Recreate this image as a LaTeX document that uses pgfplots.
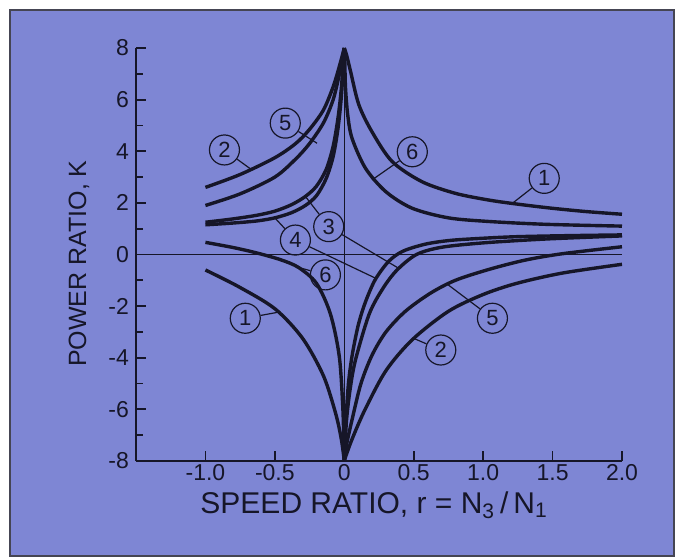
\documentclass[border=0pt]{standalone}
\usepackage{fontspec}
\setmainfont{Liberation Sans}
\usepackage{pgfplots}
\pgfplotsset{compat=1.18}
\definecolor{bg}{RGB}{126,134,212}
\definecolor{ink}{RGB}{22,22,40}
\tikzset{curve/.style={ink, line width=1.7pt, smooth, tension=0.5, mark=none}}
\begin{document}
\begin{tikzpicture}
\fill[white] (0,0) rectangle (338pt,279pt);
\draw[fill=bg, draw=ink!80, line width=1pt] (5pt,1pt) rectangle (337pt,274pt);
\begin{axis}[
    at={(68pt,48.5pt)}, anchor=south west,
    width=243pt, height=206.5pt, scale only axis,
    xmin=-1.5, xmax=2, ymin=-8, ymax=8,
    axis x line*=bottom, axis y line*=left,
    xtick={-1,-0.5,0,0.5,1,1.5,2},
    xticklabels={-1.0,-0.5,0,0.5,1.0,1.5,2.0},
    ytick={-8,-6,-4,-2,0,2,4,6,8},
    yticklabels={-8,-6,-4,-2,0,2,4,6,8},
    minor ytick={-7,-5,-3,-1,1,3,5,7},
    tick align=inside, major tick length=5pt, minor tick length=3.5pt,
    axis line style={line width=0.9pt, ink},
    every tick/.style={line width=0.9pt, ink},
    tick label style={font=\fontsize{11.5}{11.5}\selectfont, text=ink},
    xticklabel style={inner sep=1.5pt},
    xlabel={SPEED RATIO, r = N\textsubscript{3}\,/\,N\textsubscript{1}},
    ylabel={POWER RATIO, K},
    xlabel style={at={(axis description cs:0.49,-0.127)}, anchor=base,
        font=\fontsize{15}{15}\selectfont, text=ink},
    ylabel style={at={(axis description cs:-0.1173,0.478)}, anchor=center,
        font=\fontsize{12.5}{12.5}\selectfont, text=ink},
    clip=false,
]
% reference lines
\draw[ink, line width=0.6pt] (axis cs:-1.5,0) -- (axis cs:2,0);
\draw[ink, line width=0.6pt] (axis cs:0,-8) -- (axis cs:0,8);

% curve 1
\addplot[curve] coordinates {(0,8) (0.018,7.7) (0.045,7.1) (0.105,5.8) (0.2,4.75) (0.345,3.6) (0.56,2.82) (0.8,2.37) (1.04,2.11) (1.25,1.95) (1.5,1.79) (1.75,1.66) (2.0,1.56)};
\addplot[curve] coordinates {(-1.0,-0.6) (-0.76,-1.25) (-0.5,-2.1) (-0.3,-3.25) (-0.15,-4.7) (-0.06,-6.2) (-0.02,-7.2) (0,-8)};
% curve 6
\addplot[curve] coordinates {(0,8) (0.004,7.4) (0.009,6.45) (0.025,5.4) (0.056,4.5) (0.153,3.34) (0.3,2.43) (0.49,1.79) (0.75,1.42) (1.04,1.28) (1.45,1.17) (2.0,1.1)};
\addplot[curve] coordinates {(-1.0,0.47) (-0.8,0.27) (-0.63,0.06) (-0.46,-0.2) (-0.33,-0.5) (-0.2,-1.12) (-0.1,-2.3) (-0.036,-3.95) (-0.01,-6.0) (0,-8)};
% curve 2
\addplot[curve] coordinates {(-1.0,2.6) (-0.75,3.1) (-0.5,3.75) (-0.35,4.3) (-0.25,4.85) (-0.15,5.6) (-0.08,6.5) (-0.035,7.3) (0,8)};
\addplot[curve] coordinates {(0,-8) (0.015,-7.75) (0.06,-7.1) (0.15,-6.0) (0.3,-4.5) (0.49,-3.3) (0.75,-2.2) (1.0,-1.55) (1.24,-1.12) (1.57,-0.72) (2.0,-0.38)};
% curve 5
\addplot[curve] coordinates {(-1.0,1.9) (-0.75,2.35) (-0.5,3.0) (-0.35,3.7) (-0.25,4.3) (-0.15,5.1) (-0.08,6.0) (-0.035,7.0) (0,8)};
\addplot[curve] coordinates {(0,-8) (0.015,-7.4) (0.056,-6.4) (0.12,-5.0) (0.2,-3.9) (0.3,-3.0) (0.44,-2.2) (0.62,-1.5) (0.8,-1.0) (1.04,-0.58) (1.3,-0.22) (1.57,0.03) (2.0,0.3)};
% curve 3
\addplot[curve] coordinates {(-1.0,1.25) (-0.8,1.38) (-0.63,1.52) (-0.5,1.68) (-0.38,1.93) (-0.28,2.25) (-0.2,2.65) (-0.13,3.3) (-0.08,4.2) (-0.045,5.3) (-0.02,6.5) (0,8)};
\addplot[curve] coordinates {(0,-8) (0.015,-6.5) (0.04,-5.3) (0.08,-4.1) (0.18,-2.3) (0.28,-1.3) (0.38,-0.6) (0.52,0.0) (0.7,0.28) (1.0,0.45) (1.45,0.6) (2.0,0.72)};
% curve 4
\addplot[curve] coordinates {(-1.0,1.15) (-0.8,1.22) (-0.63,1.3) (-0.5,1.42) (-0.38,1.62) (-0.28,1.9) (-0.2,2.28) (-0.13,2.95) (-0.08,3.8) (-0.045,4.9) (-0.02,6.2) (0,8)};
\addplot[curve] coordinates {(0,-8) (0.01,-6.6) (0.03,-5.0) (0.057,-3.9) (0.1,-2.75) (0.151,-1.86) (0.22,-1.0) (0.307,-0.34) (0.38,0.0) (0.46,0.21) (0.6,0.42) (0.77,0.55) (1.0,0.63) (1.24,0.69) (1.6,0.73) (2.0,0.76)};

% circled labels with leaders
\tikzset{lab/.style={circle, draw=ink, line width=0.6pt, minimum size=15pt, inner sep=0pt,
    font=\fontsize{11}{11}\selectfont, text=ink}}
\node[lab] (a2) at (axis cs:-0.863,4.05) {2};
\draw[ink, line width=0.6pt] (a2) -- (axis cs:-0.666,3.28);
\node[lab] (a5) at (axis cs:-0.425,5.09) {5};
\draw[ink, line width=0.6pt] (a5) -- (axis cs:-0.196,4.31);
\node[lab] (a3) at (axis cs:-0.112,1.08) {3};
\draw[ink, line width=0.6pt] (a3) -- (axis cs:-0.28,2.25);
\draw[ink, line width=0.6pt] (a3) -- (axis cs:0.39,-0.53);
\node[lab] (a4) at (axis cs:-0.352,0.56) {4};
\draw[ink, line width=0.6pt] (a4) -- (axis cs:-0.5,1.42);
\draw[ink, line width=0.6pt] (a4) -- (axis cs:0.23,-0.93);
\node[lab] (b6) at (axis cs:-0.136,-0.79) {6};
\draw[ink, line width=0.6pt] (b6) -- (axis cs:-0.31,-0.53);
\node[lab] (a6) at (axis cs:0.49,3.98) {6};
\draw[ink, line width=0.6pt] (a6) -- (axis cs:0.2,2.89);
\node[lab] (a1) at (axis cs:1.44,2.95) {1};
\draw[ink, line width=0.6pt] (a1) -- (axis cs:1.21,1.98);
\node[lab] (b1) at (axis cs:-0.713,-2.47) {1};
\draw[ink, line width=0.6pt] (b1) -- (axis cs:-0.46,-2.22);
\node[lab] (b5) at (axis cs:1.067,-2.47) {5};
\draw[ink, line width=0.6pt] (b5) -- (axis cs:0.742,-1.15);
\node[lab] (b2) at (axis cs:0.695,-3.70) {2};
\draw[ink, line width=0.6pt] (b2) -- (axis cs:0.5,-3.25);
\end{axis}
\end{tikzpicture}
\end{document}
